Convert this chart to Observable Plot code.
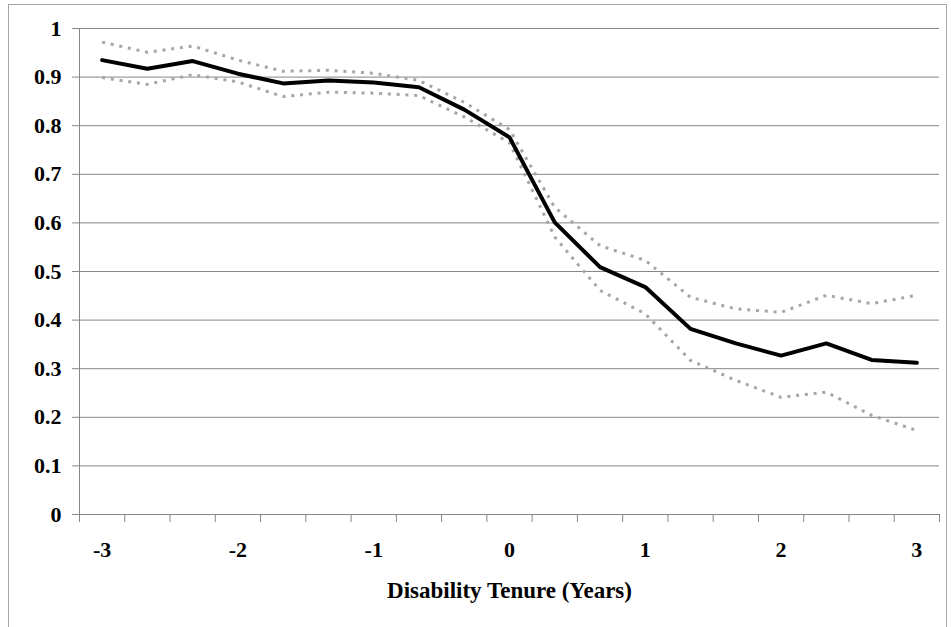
<!DOCTYPE html>
<html>
<head>
<meta charset="utf-8">
<script src="https://cdn.jsdelivr.net/npm/d3@7"></script>
<script src="https://cdn.jsdelivr.net/npm/@observablehq/plot@0.6"></script>
<style>
  html, body { margin: 0; padding: 0; background: #fff; }
  #wrap { position: relative; width: 951px; height: 627px; overflow: hidden; }
  #border { position: absolute; left: 8px; top: 4px; width: 939px; height: 700px; border: 1px solid #a6a6a6; box-sizing: border-box; pointer-events: none; }
  #chart { position: absolute; left: 0; top: 0; }
</style>
</head>
<body>
<div id="wrap"><div id="chart"></div><div id="border"></div></div>
<script>
// Disability tenure in years (categories, one every 4 months)
const tenure = [-3, -2.667, -2.333, -2, -1.667, -1.333, -1, -0.667, -0.333, 0,
                0.333, 0.667, 1, 1.333, 1.667, 2, 2.333, 2.667, 3];
// Employment rate (mean) and confidence bounds
const meanRate = [0.935, 0.917, 0.933, 0.907, 0.887, 0.893, 0.889, 0.879, 0.833, 0.776,
                  0.601, 0.509, 0.468, 0.382, 0.352, 0.327, 0.352, 0.318, 0.312];
const upperRate = [0.972, 0.951, 0.964, 0.935, 0.912, 0.914, 0.908, 0.893, 0.848, 0.792,
                   0.632, 0.553, 0.523, 0.447, 0.423, 0.416, 0.451, 0.434, 0.451];
const lowerRate = [0.899, 0.885, 0.905, 0.890, 0.860, 0.869, 0.867, 0.862, 0.818, 0.765,
                   0.571, 0.461, 0.413, 0.317, 0.276, 0.241, 0.252, 0.204, 0.173];
const xTickLabels = [-3, -2, -1, 0, 1, 2, 3];
const yTicks = [0, 0.1, 0.2, 0.3, 0.4, 0.5, 0.6, 0.7, 0.8, 0.9, 1];
const xTitle = "Disability Tenure (Years)";

const rows = tenure.map((t, i) => ({t, mean: meanRate[i], upper: upperRate[i], lower: lowerRate[i]}));
const step = (tenure[tenure.length - 1] - tenure[0]) / (tenure.length - 1);
const xMin = tenure[0] - step / 2, xMax = tenure[tenure.length - 1] + step / 2;
const boundaries = d3.range(tenure.length + 1).map(k => xMin + k * step);

const gray = "#868686";
const font = "'Liberation Serif', 'Times New Roman', 'DejaVu Serif', serif";

const chart = Plot.plot({
  width: 951,
  height: 627,
  marginLeft: 79,
  marginRight: 12,
  marginTop: 28,
  marginBottom: 113,
  style: `font-family: ${font}; font-size: 22px; font-weight: bold; color: #000; background: #fff;`,
  x: {domain: [xMin, xMax]},
  y: {domain: [0, 1]},
  marks: [
    Plot.gridY(yTicks, {stroke: gray, strokeOpacity: 1, strokeWidth: 1}),
    Plot.ruleX([xMin], {stroke: gray, strokeWidth: 1}),
    Plot.axisY(yTicks, {tickSize: 7, tickPadding: 11, stroke: gray, tickFormat: d => String(d), label: null}),
    Plot.axisX(boundaries, {tickSize: 8, stroke: gray, tickFormat: () => "", label: null}),
    Plot.axisX(xTickLabels, {tickSize: 0, tickPadding: 27, tickFormat: d => String(d), label: null}),
    Plot.text([xTitle], {frameAnchor: "bottom", lineAnchor: "top", dy: 67, text: d => d, fill: "#111"}),
    Plot.line(rows, {x: "t", y: "upper", stroke: "#a6a6a6", strokeWidth: 3, strokeDasharray: "3 5.8", strokeLinecap: "butt"}),
    Plot.line(rows, {x: "t", y: "lower", stroke: "#a6a6a6", strokeWidth: 3, strokeDasharray: "3 5.8", strokeLinecap: "butt"}),
    Plot.line(rows, {x: "t", y: "mean", stroke: "#000", strokeWidth: 4, strokeLinejoin: "round"})
  ]
});
// enforce font on all text (overrides Plot's default class styles)
d3.select(chart).selectAll("g").filter(function() { return this.querySelector("text"); })
  .attr("font-family", font).attr("font-size", 22).attr("font-weight", "bold");
d3.select(chart).selectAll("text")
  .style("font-family", font)
  .style("font-size", "22px")
  .style("font-weight", "bold")
  .style("fill", "#000");
d3.select(chart).selectAll('g[aria-label="text"] text').style("font-size", "23px");
document.getElementById("chart").appendChild(chart);
</script>
</body>
</html>
